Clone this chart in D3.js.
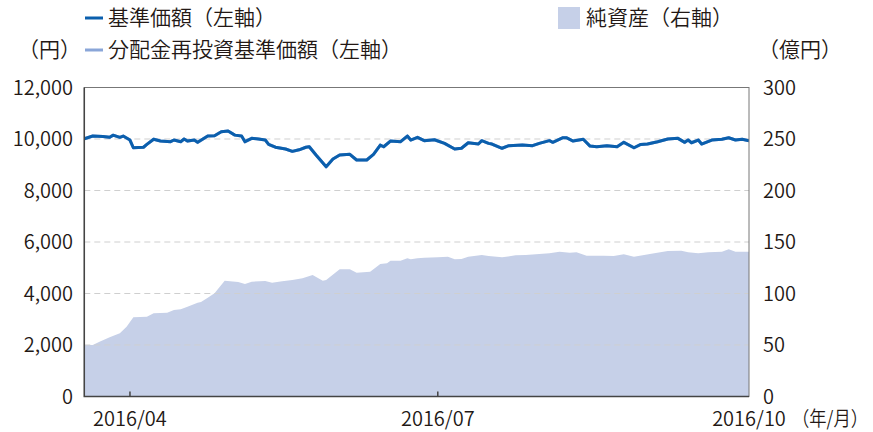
<!DOCTYPE html>
<html lang="ja">
<head>
<meta charset="utf-8">
<script src="https://cdn.jsdelivr.net/npm/d3@7"></script>
<style>
    html, body { margin: 0; padding: 0; background: #fff; }
    svg text { font-family: "Noto Sans CJK JP", "Noto Sans", sans-serif; fill: #231815; font-weight: 350; }
</style>
</head>
<body>
<div id="chart"></div>
<script>
// 基準価額（左軸, 円）
const navDates = [
    '2016-03-18', '2016-03-21', '2016-03-24', '2016-03-26', '2016-03-27', '2016-03-29', '2016-03-30',
    '2016-04-01', '2016-04-02', '2016-04-05', '2016-04-06', '2016-04-08', '2016-04-10', '2016-04-13',
    '2016-04-14', '2016-04-16', '2016-04-17', '2016-04-18', '2016-04-20', '2016-04-21', '2016-04-24',
    '2016-04-26', '2016-04-28', '2016-04-30', '2016-05-02', '2016-05-04', '2016-05-05', '2016-05-07',
    '2016-05-09', '2016-05-11', '2016-05-12', '2016-05-14', '2016-05-17', '2016-05-19', '2016-05-21',
    '2016-05-23', '2016-05-24', '2016-05-26', '2016-05-29', '2016-05-31', '2016-06-02', '2016-06-05',
    '2016-06-07', '2016-06-10', '2016-06-12', '2016-06-14', '2016-06-15', '2016-06-17', '2016-06-20',
    '2016-06-22', '2016-06-23', '2016-06-25', '2016-06-27', '2016-06-30', '2016-07-03', '2016-07-06',
    '2016-07-08', '2016-07-10', '2016-07-13', '2016-07-14', '2016-07-16', '2016-07-17', '2016-07-20',
    '2016-07-22', '2016-07-26', '2016-07-29', '2016-07-31', '2016-08-03', '2016-08-04', '2016-08-07',
    '2016-08-08', '2016-08-10', '2016-08-13', '2016-08-15', '2016-08-17', '2016-08-20', '2016-08-23',
    '2016-08-25', '2016-08-28', '2016-08-30', '2016-09-01', '2016-09-04', '2016-09-07', '2016-09-10',
    '2016-09-12', '2016-09-13', '2016-09-14', '2016-09-16', '2016-09-17', '2016-09-20', '2016-09-23',
    '2016-09-25', '2016-09-27', '2016-09-29', '2016-10-01'
];
const navValues = [
    9990, 10115, 10100, 10065, 10150, 10065, 10115,
    9960, 9660, 9680, 9790, 9990, 9920, 9895,
    9960, 9895, 10000, 9920, 9960, 9870, 10115,
    10125, 10280, 10310, 10150, 10115, 9895, 10025,
    10000, 9960, 9790, 9680, 9610, 9520, 9580,
    9680, 9700, 9380, 8925, 9220, 9380, 9405,
    9185, 9185, 9405, 9765, 9700, 9920, 9895,
    10115, 9960, 10065, 9935, 9970, 9830, 9610,
    9640, 9855, 9805, 9935, 9830, 9805, 9640,
    9740, 9765, 9740, 9830, 9935, 9870, 10050,
    10050, 9920, 9990, 9725, 9700, 9740, 9700,
    9870, 9660, 9790, 9805, 9895, 10000, 10025,
    9870, 9960, 9855, 9960, 9805, 9960, 9990,
    10050, 9960, 9990, 9935
];
// 分配金再投資基準価額（左軸）: 分配実績なしのため基準価額と同値
const reinvestValues = navValues;

// 純資産（右軸, 億円）
const assetDates = [
    '2016-03-18', '2016-03-21', '2016-03-23', '2016-03-26', '2016-03-29', '2016-03-31', '2016-04-02',
    '2016-04-06', '2016-04-08', '2016-04-12', '2016-04-14', '2016-04-16', '2016-04-18', '2016-04-21',
    '2016-04-22', '2016-04-24', '2016-04-26', '2016-04-29', '2016-05-03', '2016-05-05', '2016-05-07',
    '2016-05-11', '2016-05-13', '2016-05-16', '2016-05-19', '2016-05-22', '2016-05-25', '2016-05-28',
    '2016-05-29', '2016-06-02', '2016-06-05', '2016-06-07', '2016-06-11', '2016-06-14', '2016-06-16',
    '2016-06-17', '2016-06-20', '2016-06-22', '2016-06-23', '2016-06-25', '2016-06-27', '2016-07-01',
    '2016-07-04', '2016-07-06', '2016-07-08', '2016-07-10', '2016-07-14', '2016-07-16', '2016-07-20',
    '2016-07-24', '2016-07-27', '2016-07-30', '2016-08-03', '2016-08-06', '2016-08-09', '2016-08-11',
    '2016-08-14', '2016-08-19', '2016-08-22', '2016-08-25', '2016-08-28', '2016-08-31', '2016-09-03',
    '2016-09-07', '2016-09-11', '2016-09-13', '2016-09-16', '2016-09-19', '2016-09-23', '2016-09-25',
    '2016-09-27', '2016-10-01'
];
const assetValues = [
    50.0, 50.0, 53.2, 57.5, 61.3, 67.8, 76.9,
    77.5, 80.8, 81.4, 84.0, 84.7, 87.2, 91.1,
    91.7, 95.9, 100.2, 112.4, 111.2, 109.2, 111.5,
    112.1, 110.5, 111.8, 113.1, 114.8, 118.0, 112.4,
    113.1, 123.5, 123.5, 120.2, 121.2, 128.6, 129.3,
    131.8, 131.8, 134.2, 133.2, 134.2, 134.8, 135.1,
    135.7, 133.2, 133.5, 135.7, 137.4, 136.4, 135.1,
    137.1, 137.4, 138.1, 139.0, 140.6, 139.6, 140.0,
    136.7, 136.7, 136.4, 138.1, 135.7, 137.4, 139.0,
    141.3, 141.6, 140.0, 139.0, 140.0, 140.6, 142.9,
    140.6, 140.6
];

// 軸目盛り
const leftTicks = [0, 2000, 4000, 6000, 8000, 10000, 12000];
const rightTicks = [0, 50, 100, 150, 200, 250, 300];
const xTickDates = ['2016-04-01', '2016-07-01', '2016-10-01'];
const xTickLabels = ['2016/04', '2016/07', '2016/10'];

const width = 873;
const height = 432;
const margin = { top: 87.5, right: 124, bottom: 35.5, left: 84.3 };

const parse = d3.timeParse('%Y-%m-%d');
const navData = navDates.map((d, i) => ({ date: parse(d), nav: navValues[i], reinvest: reinvestValues[i] }));
const assetData = assetDates.map((d, i) => ({ date: parse(d), value: assetValues[i] }));

const svg = d3.select('#chart')
    .append('svg')
    .attr('width', width)
    .attr('height', height);

const innerW = width - margin.left - margin.right;
const innerH = height - margin.top - margin.bottom;

// スケール
const x = d3.scaleTime()
    .domain([new Date(2016, 2, 18, 12), new Date(2016, 9, 1)])
    .range([margin.left, margin.left + innerW]);
const yLeft = d3.scaleLinear().domain([0, 12000]).range([margin.top + innerH, margin.top]);
const yRight = d3.scaleLinear().domain([0, 300]).range([margin.top + innerH, margin.top]);

svg.append('clipPath')
    .attr('id', 'plot-clip')
    .append('rect')
    .attr('x', margin.left)
    .attr('y', margin.top)
    .attr('width', innerW)
    .attr('height', innerH);

// 純資産（面）
svg.append('path')
    .datum(assetData)
    .attr('clip-path', 'url(#plot-clip)')
    .attr('fill', '#c6d0e8')
    .attr('d', d3.area()
        .x(d => x(d.date))
        .y0(yLeft(0))
        .y1(d => yRight(d.value)));

// 補助線（破線）
svg.append('g')
    .selectAll('line')
    .data(leftTicks.filter(t => t > 0 && t < 12000))
    .enter()
    .append('line')
    .attr('x1', margin.left)
    .attr('x2', margin.left + innerW)
    .attr('y1', d => yLeft(d))
    .attr('y2', d => yLeft(d))
    .style('stroke', '#cfcfcf')
    .style('stroke-width', 1)
    .style('stroke-dasharray', '6,4');

// 分配金再投資基準価額・基準価額（線）
const line = key => d3.line().x(d => x(d.date)).y(d => yLeft(d[key]));
svg.append('path')
    .datum(navData)
    .attr('clip-path', 'url(#plot-clip)')
    .attr('fill', 'none')
    .style('stroke', '#8aa6d8')
    .style('stroke-width', 3)
    .attr('d', line('reinvest'));
svg.append('path')
    .datum(navData)
    .attr('clip-path', 'url(#plot-clip)')
    .attr('fill', 'none')
    .style('stroke', '#0b5fad')
    .style('stroke-width', 3)
    .style('stroke-linejoin', 'round')
    .attr('d', line('nav'));

// 枠線
svg.append('rect')
    .attr('x', margin.left)
    .attr('y', margin.top)
    .attr('width', innerW)
    .attr('height', innerH)
    .attr('fill', 'none')
    .style('stroke', '#777')
    .style('stroke-width', 1);
svg.append('path')
    .attr('d', `M${margin.left},${margin.top}V${margin.top + innerH}H${margin.left + innerW}`)
    .attr('fill', 'none')
    .style('stroke', '#444')
    .style('stroke-width', 1.5);

// 左軸
const axisFont = '20px';
const labelFont = '21px';
svg.append('g')
    .selectAll('text')
    .data(leftTicks)
    .enter()
    .append('text')
    .attr('x', 73)
    .attr('y', d => yLeft(d))
    .attr('dy', '0.35em')
    .attr('text-anchor', 'end')
    .style('font-size', axisFont)
    .text(d => d3.format(',')(d));

// 右軸
svg.append('g')
    .selectAll('text')
    .data(rightTicks)
    .enter()
    .append('text')
    .attr('x', 763)
    .attr('y', d => yRight(d))
    .attr('dy', '0.35em')
    .style('font-size', axisFont)
    .text(d => d);

// 横軸（目盛りは内向き）
const xTicks = xTickDates.map((d, i) => ({ date: parse(d), label: xTickLabels[i] }));
svg.append('g')
    .selectAll('line')
    .data(xTicks.slice(0, 2))
    .enter()
    .append('line')
    .attr('x1', d => x(d.date))
    .attr('x2', d => x(d.date))
    .attr('y1', margin.top + innerH)
    .attr('y2', margin.top + innerH - 5)
    .style('stroke', '#444')
    .style('stroke-width', 1.5);
svg.append('g')
    .selectAll('text')
    .data(xTicks)
    .enter()
    .append('text')
    .attr('x', d => x(d.date))
    .attr('y', 419)
    .attr('dy', '0.35em')
    .attr('text-anchor', 'middle')
    .style('font-size', axisFont)
    .text(d => d.label);
svg.append('text')
    .attr('x', 792)
    .attr('y', 419)
    .attr('dy', '0.35em')
    .attr('textLength', 76)
    .attr('lengthAdjust', 'spacingAndGlyphs')
    .style('font-size', axisFont)
    .text('（年/月）');

// 単位
svg.append('text').attr('x', 18).attr('y', 50).attr('dy', '0.35em')
    .style('font-size', labelFont).text('（円）');
svg.append('text').attr('x', 758).attr('y', 50).attr('dy', '0.35em')
    .style('font-size', labelFont).text('（億円）');

// 凡例
const legend = [
    { type: 'line', color: '#0b5fad', label: '基準価額（左軸）', x: 85, y: 18 },
    { type: 'line', color: '#8aa6d8', label: '分配金再投資基準価額（左軸）', x: 85, y: 50 },
    { type: 'rect', color: '#c6d0e8', label: '純資産（右軸）', x: 558, y: 18 }
];
const lg = svg.append('g')
    .selectAll('g')
    .data(legend)
    .enter()
    .append('g')
    .attr('transform', d => `translate(${d.x},${d.y})`);
lg.filter(d => d.type === 'line')
    .append('line')
    .attr('x1', 0).attr('x2', 18)
    .style('stroke', d => d.color)
    .style('stroke-width', 3);
lg.filter(d => d.type === 'rect')
    .append('rect')
    .attr('x', 0).attr('y', -11)
    .attr('width', 22).attr('height', 22)
    .attr('fill', d => d.color);
lg.append('text')
    .attr('x', d => d.type === 'rect' ? 28 : 23)
    .attr('dy', '0.35em')
    .style('font-size', labelFont)
    .text(d => d.label);
</script>
</body>
</html>
